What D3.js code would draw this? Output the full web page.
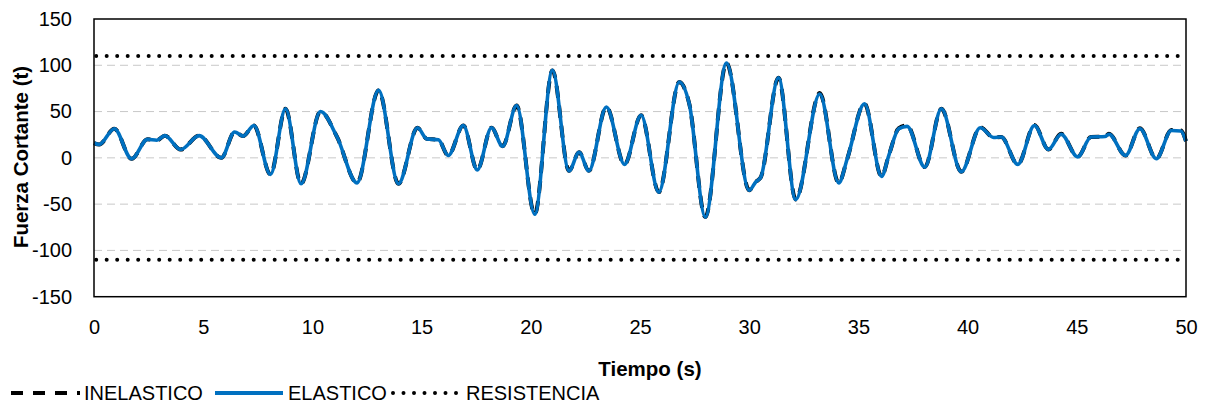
<!DOCTYPE html>
<html><head><meta charset="utf-8">
<script src="https://cdn.jsdelivr.net/npm/d3@7"></script>
<style>body{margin:0;background:#fff}svg{display:block}</style>
</head><body>
<svg id="c" width="1211" height="408"></svg>
<script>
const time = [0,0.24,0.93,1.72,2.45,2.88,3.24,3.97,4.81,5.83,6.44,6.83,7.32,8.08,8.77,9.48,10.37,11.13,12.04,13.03,13.94,14.81,15.24,15.77,16.22,16.91,17.55,18.2,18.71,19.35,20.18,20.99,21.75,22.21,22.66,23.46,24.29,25.05,25.86,26.8,27.25,27.99,28.96,30.0,30.3,30.53,31.34,32.13,33.23,34.1,34.49,35.28,36.06,36.39,36.85,37.23,38.04,38.8,39.71,40.58,41.19,41.54,42.3,43.06,43.7,44.28,45.04,45.65,46.29,46.47,47.23,47.89,48.64,49.33,49.76,50];
const elastico = [16,14.5,31.5,-1,20,19,24,9,24,0,28,23.5,35,-18,53,-28,50,22.5,-27,73,-28,32.5,20.5,19.5,2.5,35,-13,32.5,12.5,56.5,-61,94.5,-14,6,-14,55,-7,46,-37,82,59,-64,102.5,-35,-26,-21,86.5,-45,69,-27,-1,58.5,-20,2.5,31.5,34,-10,53,-15,32.5,22,22.5,-7,35,9,25.5,1,22.5,23,25.5,2.5,31.5,-1,29.5,29,18];
const inelastico = [16,14.5,31.5,-1,20,19,24,9,24,0,28,23.5,35,-18,53,-28,50,22.5,-27,73,-28,32.5,20.5,19.5,2.5,35,-13,32.5,12.5,56.5,-61,94.5,-14,6,-14,55,-7,46,-37,82,59,-64,102.5,-35,-26,-21,86.5,-45,70,-27,-1,58.5,-20,2.5,32,35,-10,53,-15,33,22,22.5,-7,35.5,9,26,1,22.5,23,26,2.5,32,-1,30,29.5,18];
const resistencia = [110,-110];
const xTicks = [0,5,10,15,20,25,30,35,40,45,50];
const yTicks = [-150,-100,-50,0,50,100,150];
const gridTicks = [-100,-50,0,50,100];

const svg = d3.select("#c");
const L=94,R=1186,T=19,B=296.7;
const x = d3.scaleLinear().domain([0,50]).range([L,R]);
const y = d3.scaleLinear().domain([-150,150]).range([B,T]);
const font = "'Liberation Sans', Arial, sans-serif";

svg.append("g").selectAll("line").data(gridTicks).join("line")
  .attr("x1",L).attr("x2",R).attr("y1",d=>y(d)).attr("y2",d=>y(d))
  .attr("stroke","#c8c8c8").attr("stroke-width",1).attr("stroke-dasharray","8,5");

const line = d3.line().x(d=>x(d[0])).y(d=>y(d[1])).curve(d3.curveMonotoneX);

svg.append("g").selectAll("line").data(resistencia).join("line")
  .attr("x1",x(0.1)).attr("x2",R-3).attr("y1",d=>y(d)).attr("y2",d=>y(d))
  .attr("stroke","#000").attr("stroke-width",4).attr("stroke-linecap","round")
  .attr("stroke-dasharray","0,10.5");

svg.append("path").datum(time.map((t,i)=>[t,inelastico[i]]))
  .attr("d",line).attr("fill","none").attr("stroke","#000").attr("stroke-width",4)
  .attr("stroke-dasharray","12,8");
svg.append("path").datum(time.map((t,i)=>[t,elastico[i]]))
  .attr("d",line).attr("fill","none").attr("stroke","#0070C0").attr("stroke-width",3.6)
  .attr("stroke-linejoin","round");

svg.append("rect").attr("x",L).attr("y",T).attr("width",R-L).attr("height",B-T)
  .attr("fill","none").attr("stroke","#000").attr("stroke-width",1.5);

const yAxis = d3.axisLeft(y).tickValues(yTicks).tickSize(0).tickPadding(22).tickFormat(d=>String(d));
svg.append("g").attr("transform",`translate(${L},0)`).call(yAxis)
  .call(g=>g.select(".domain").remove())
  .selectAll("text").attr("font-family",font).attr("font-size",20).attr("fill","#000");
const xAxis = d3.axisBottom(x).tickValues(xTicks).tickSize(0).tickPadding(23).tickFormat(d=>String(d));
svg.append("g").attr("transform",`translate(0,${B})`).call(xAxis)
  .call(g=>g.select(".domain").remove())
  .selectAll("text").attr("font-family",font).attr("font-size",20).attr("fill","#000");

svg.append("text").attr("x",650).attr("y",376).attr("text-anchor","middle")
  .attr("font-family",font).attr("font-size",20.5).attr("font-weight","bold").text("Tiempo (s)");
svg.append("text").attr("transform","translate(28,157) rotate(-90)").attr("text-anchor","middle")
  .attr("font-family",font).attr("font-size",20.5).attr("font-weight","bold").text("Fuerza Cortante (t)");

const leg = svg.append("g").attr("font-family",font).attr("font-size",20);
const ly = 393;
leg.append("line").attr("x1",11).attr("x2",80).attr("y1",ly).attr("y2",ly)
  .attr("stroke","#000").attr("stroke-width",4).attr("stroke-dasharray","12,10");
leg.append("text").attr("x",84).attr("y",ly+7).text("INELASTICO");
leg.append("line").attr("x1",215).attr("x2",283).attr("y1",ly).attr("y2",ly)
  .attr("stroke","#0070C0").attr("stroke-width",4);
leg.append("text").attr("x",288).attr("y",ly+7).text("ELASTICO");
leg.append("line").attr("x1",393).attr("x2",462).attr("y1",ly).attr("y2",ly)
  .attr("stroke","#000").attr("stroke-width",4).attr("stroke-linecap","round").attr("stroke-dasharray","0,10.5");
leg.append("text").attr("x",466).attr("y",ly+7).text("RESISTENCIA");
</script>
</body></html>
